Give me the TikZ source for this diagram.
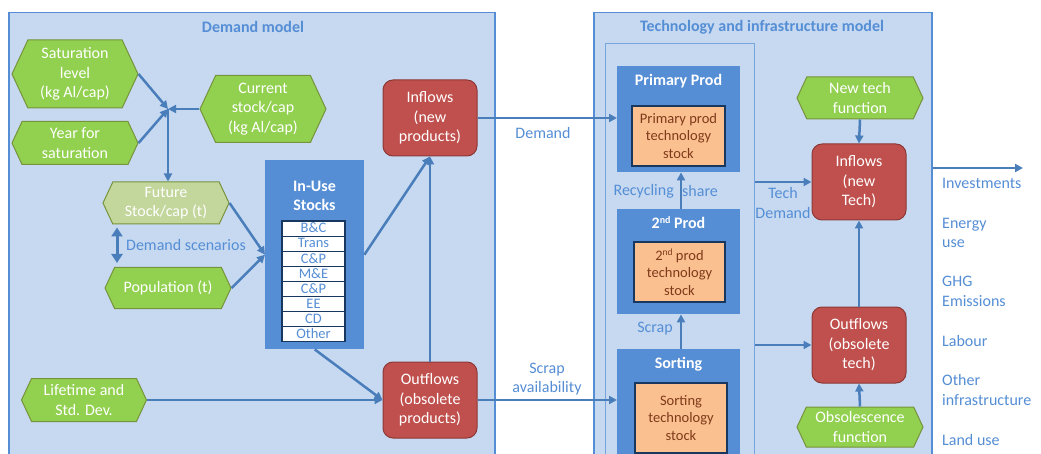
\documentclass[tikz,border=0pt]{standalone}
\usepackage{fontspec}
\setmainfont{Carlito}
\usetikzlibrary{arrows.meta,shapes.symbols,calc}
\definecolor{panel}{HTML}{C6D9F1}
\definecolor{panelline}{HTML}{558ED5}
\definecolor{darkbox}{HTML}{558ED5}
\definecolor{grn}{HTML}{92D050}
\definecolor{grnline}{HTML}{77933C}
\definecolor{ltgrn}{HTML}{C3D69B}
\definecolor{redbox}{HTML}{C0504D}
\definecolor{redline}{HTML}{8C3836}
\definecolor{orng}{HTML}{FAC090}
\definecolor{navy}{HTML}{17375E}
\definecolor{brwn}{HTML}{7F3A1A}
\definecolor{txtblue}{HTML}{558ED5}
\definecolor{arr}{HTML}{4A7EBB}
\begin{document}
\begin{tikzpicture}[x=1pt,y=-1pt,
  font=\fontsize{16}{19.5}\selectfont,
  panelbox/.style={draw=panelline, fill=panel, line width=1.5pt, anchor=north west, inner sep=0pt},
  innerbox/.style={draw=panelline!80, fill=panel, line width=1pt, anchor=north west, inner sep=0pt},
  hexa/.style={signal, signal to=west and east, signal pointer angle=130, fill=grn, draw=grnline, line width=1pt, text=white, align=center, inner sep=0pt},
  redb/.style={rectangle, rounded corners=10pt, fill=redbox, draw=redline, line width=1pt, text=white, align=center, minimum width=94pt, minimum height=76pt, inner sep=0pt},
  darkb/.style={rectangle, fill=darkbox, draw=none, inner sep=0pt},
  orgb/.style={rectangle, fill=orng, draw=navy, line width=1.5pt, text=brwn, align=center, inner sep=0pt, font=\fontsize{14.5}{17.5}\selectfont},
  boxtitle/.style={text=white, font=\fontsize{16}{19.5}\selectfont\bfseries, align=center, inner sep=0pt},
  ptitle/.style={text=txtblue, font=\fontsize{16}{19.5}\selectfont\bfseries, inner sep=0pt},
  lbl/.style={text=txtblue, align=center, inner sep=0pt},
  outlbl/.style={text=txtblue, align=left, anchor=west, inner sep=0pt},
  rowb/.style={rectangle, fill=white, draw=navy, line width=1.2pt, minimum width=63pt, minimum height=15.1pt, text height=9.5pt, text depth=1pt, inner sep=0pt, text=txtblue, font=\fontsize{14.5}{14.5}\selectfont},
  arrow/.style={draw=arr, line width=2.5pt, -{Triangle[length=8pt,width=8pt]}},
  thin/.style={draw=arr, line width=2pt, -{Triangle[length=8pt,width=8pt]}},
]
\useasboundingbox (0,0) rectangle (1041,454);
\clip (0,0) rectangle (1041,454);
\fill[white] (0,0) rectangle (1041,454);

% panels
\node[panelbox, minimum width=486pt, minimum height=460pt] (demand) at (8,12) {};
\node[panelbox, minimum width=338pt, minimum height=460pt] (tech) at (593,12) {};
\node[innerbox, minimum width=149pt, minimum height=440pt] (inner) at (605,43) {};
\node[ptitle] (dtitle) at (253,27) {Demand model};
\node[ptitle] (ttitle) at (762,27) {Technology and infrastructure model};

% demand model nodes
\node[hexa, minimum width=126pt, minimum height=68pt] (sat) at (75,74) {Saturation\\level\\(kg Al/cap)};
\node[hexa, minimum width=126pt, minimum height=43pt] (year) at (75,143) {Year for\\saturation};
\node[hexa, minimum width=126pt, minimum height=67pt] (cur) at (263,109) {Current\\stock/cap\\(kg Al/cap)};
\coordinate (junc) at (168,109);
\node[hexa, fill=ltgrn, minimum width=126pt, minimum height=42pt] (fut) at (166,203) {Future\\Stock/cap (t)};
\node[hexa, minimum width=126pt, minimum height=41pt] (pop) at (168,288) {Population (t)};
\node[lbl] (scen) at (186,245) {Demand scenarios};
\node[hexa, minimum width=125pt, minimum height=43pt] (life) at (84,400) {Lifetime and\\Std. Dev.};

\node[darkb, minimum width=99pt, minimum height=189pt, anchor=north west] (inuse) at (265,160) {};
\node[boxtitle] (inusetitle) at (314.5,196) {In-Use\\Stocks};
\node[rowb] (r1) at (313.5,228.6) {B\&C};
\node[rowb] (r2) at (313.5,243.7) {Trans};
\node[rowb] (r3) at (313.5,258.8) {C\&P};
\node[rowb] (r4) at (313.5,273.9) {M\&E};
\node[rowb] (r5) at (313.5,289.0) {C\&P};
\node[rowb] (r6) at (313.5,304.1) {EE};
\node[rowb] (r7) at (313.5,319.2) {CD};
\node[rowb] (r8) at (313.5,334.3) {Other};

\node[redb] (inflow) at (430,118) {Inflows\\(new\\products)};
\node[redb] (outflow) at (430,400) {Outflows\\(obsolete\\products)};

% technology model nodes
\node[darkb, minimum width=123pt, minimum height=106pt, anchor=north west] (prim) at (617,66) {};
\node[boxtitle] (primtitle) at (678.5,81) {Primary Prod};
\node[orgb, minimum width=93pt, minimum height=60pt] (primst) at (678.5,136) {Primary prod\\technology\\stock};
\node[darkb, minimum width=123pt, minimum height=105pt, anchor=north west] (sec) at (617,209) {};
\node[boxtitle] (sectitle) at (678.5,223) {2{\fontsize{10}{10}\selectfont\raisebox{5pt}{nd}} Prod};
\node[orgb, minimum width=91pt, minimum height=60pt] (secst) at (679.5,272) {2{\fontsize{9.5}{9.5}\selectfont\raisebox{5pt}{nd}} prod\\technology\\stock};
\node[darkb, minimum width=123pt, minimum height=120pt, anchor=north west] (sort) at (617,349) {};
\node[boxtitle] (sorttitle) at (678.5,364) {Sorting};
\node[orgb, minimum width=92pt, minimum height=70pt] (sortst) at (681,418) {Sorting\\technology\\stock};

\node[hexa, minimum width=126pt, minimum height=42pt] (newtech) at (860,98) {New tech\\function};
\node[redb] (techin) at (859,182) {Inflows\\(new\\Tech)};
\node[redb] (techout) at (859,345) {Outflows\\(obsolete\\tech)};
\node[hexa, minimum width=126pt, minimum height=40pt] (obs) at (860,427) {Obsolescence\\function};

% labels
\node[lbl] (ldemand) at (543,133) {Demand};
\node[lbl] (lscrapav) at (547,379) {Scrap\\availability};
\node[lbl, anchor=east] (lrec) at (674,191) {Recycling};
\node[lbl, anchor=west] (lshare) at (682,191) {share};
\node[lbl, anchor=east] (lscrap) at (673,329) {Scrap};
\node[lbl] (ltechd) at (783,203) {Tech\\Demand};

\node[outlbl] (o1) at (942,183) {Investments};
\node[outlbl] (o2) at (942,233) {Energy\\use};
\node[outlbl] (o3) at (942,291.5) {GHG\\Emissions};
\node[outlbl] (o4) at (942,341) {Labour};
\node[outlbl] (o5) at (942,390) {Other\\infrastructure};
\node[outlbl] (o6) at (942,440) {Land use};

% connectors (demand)
\draw[arrow] (sat.east) -- (junc);
\draw[arrow] (year.east) -- (junc);
\draw[arrow] (cur.west) -- (junc);
\draw[arrow] (junc) -- (fut.north -| junc);
\draw[draw=arr, line width=3pt, {Triangle[length=9pt,width=11pt]}-{Triangle[length=9pt,width=11pt]}] ([xshift=-49pt,yshift=-3pt]fut.south) -- ([xshift=-51pt,yshift=4pt]pop.north);
\draw[arrow] (fut.east) -- (inuse.west);
\draw[arrow] (pop.east) -- (inuse.west);
\draw[arrow] (inuse.east) -- (inflow.south);
\draw[arrow] (inuse.south) -- (outflow.west);
\draw[arrow] (life.east) -- (outflow.west);
\draw[arrow] (outflow.north) -- (inflow.south);
\draw[thin] (inflow.east) -- (inflow.east -| prim.west);
\draw[thin] (outflow.east) -- (outflow.east -| sort.west);

% connectors (technology)
\draw[arrow] (sort.north -| sortst.north) -- (sec.south -| sortst.north);
\draw[arrow] (sec.north -| sortst.north) -- (prim.south -| sortst.north);
\draw[arrow] (inner.east |- techin.west) -- (techin.west);
\draw[arrow] (inner.east |- techout.west) -- (techout.west);
\draw[arrow] (newtech.south) -- (techin.north);
\draw[arrow] (techout.north) -- (techin.south);
\draw[arrow] (obs.north) -- (techout.south);
\coordinate (outend) at (1023,168);
\draw[arrow] (tech.east |- outend) -- (outend);
\end{tikzpicture}
\end{document}
